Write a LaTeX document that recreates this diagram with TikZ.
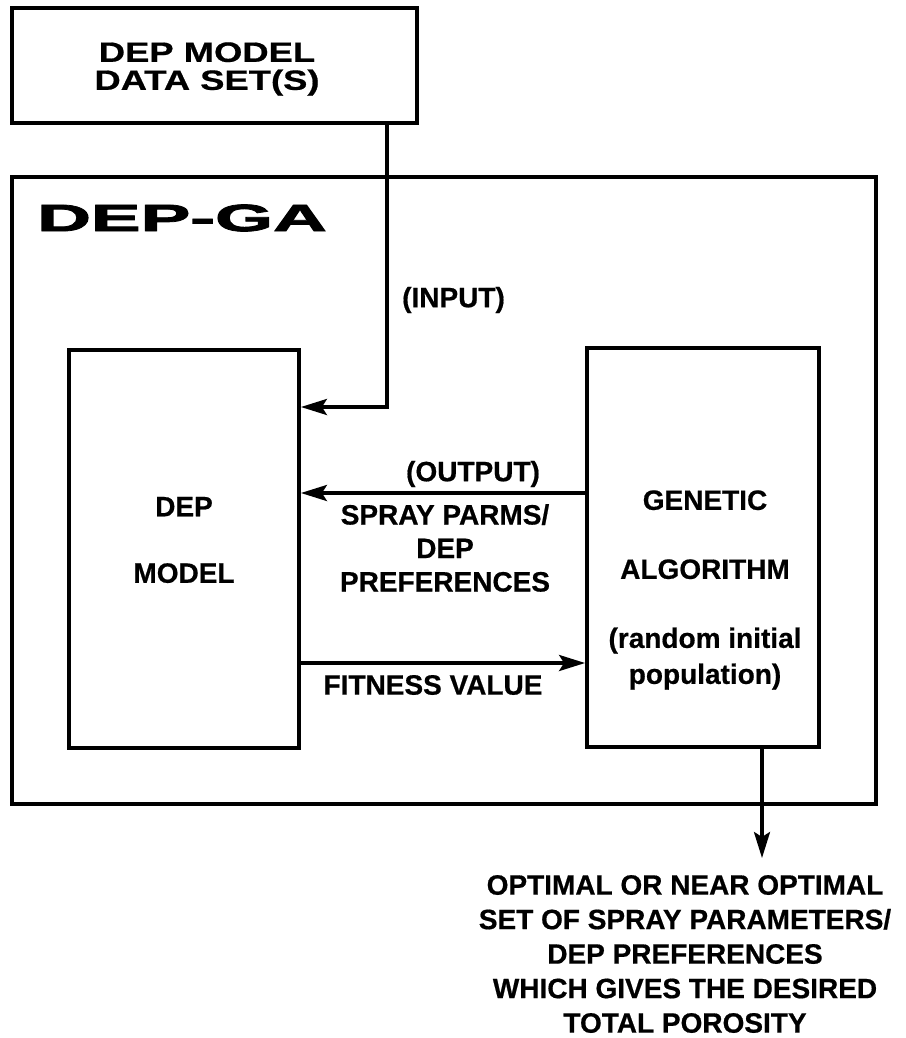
\documentclass[tikz,border=0pt]{standalone}
\usepackage{fontspec}
\setmainfont{Liberation Sans}
\newfontfamily\titlefont[FakeBold=2]{Liberation Sans Bold}
\newfontfamily\lblfont[FakeBold=0.6]{Liberation Sans Bold}
\usetikzlibrary{arrows.meta}
\tikzset{
  boxst/.style={draw, line width=3.8pt, inner sep=0pt, rectangle},
  bigbox/.style={draw, line width=4pt, inner sep=0pt, rectangle},
  arr/.style={line width=3.4pt, -{Stealth[length=26pt, width=16pt, inset=5pt]}},
  lbl/.style={font=\lblfont\fontsize{28}{33.5}\selectfont, align=center, inner sep=0pt},
  titlest/.style={font=\titlefont\fontsize{38}{40}\selectfont, inner sep=0pt}
}
\begin{document}
\begin{tikzpicture}[x=1pt,y=-1pt]
\useasboundingbox (0,0) rectangle (905,1038);
% boxes
\node[boxst, minimum width=405pt, minimum height=115pt] (data) at (214.5,65.5) {};
\node[bigbox, minimum width=864pt, minimum height=627pt] (depga) at (444,490.5) {};
\node[boxst, minimum width=230pt, minimum height=398pt] (dep) at (184,549) {};
\node[boxst, minimum width=232pt, minimum height=399pt] (ga) at (703,547.5) {};
% texts
\node[lbl, font=\lblfont\fontsize{28}{28}\selectfont] (datatxt) at (207,69)
  {\scalebox{1.3}[1]{DEP MODEL}\\\scalebox{1.3}[1]{DATA SET(S)}};
\node[titlest, anchor=west] (title) at (37,218) {\scalebox{1.96}[1]{DEP-GA}};
\node[lbl, anchor=west] (inlbl) at (402,300) {(INPUT)};
\node[lbl] (deptxt) at (184,540) {DEP\\[33pt]MODEL};
\node[lbl, font=\lblfont\fontsize{28}{36}\selectfont] (gatxt) at (705,590)
  {GENETIC\\[33pt]ALGORITHM\\[33pt](random initial\\population)};
\node[lbl] (outlbl) at (473,474) {(OUTPUT)};
\node[lbl] (spraylbl) at (445,548) {SPRAY PARMS/\\DEP\\PREFERENCES};
\node[lbl] (fitlbl) at (433,685) {FITNESS VALUE};
\node[lbl, font=\lblfont\fontsize{28}{34.5}\selectfont] (restxt) at (685,954)
  {OPTIMAL OR NEAR OPTIMAL\\SET OF SPRAY PARAMETERS/\\DEP PREFERENCES\\WHICH GIVES THE DESIRED\\TOTAL POROSITY};
% connectors
\coordinate (inbend) at (387,407);
\coordinate (outy) at (0,493);
\coordinate (fity) at (0,663);
\coordinate (restip) at (762,858);
\draw[arr] (data.south -| inbend) -- (inbend) -- (dep.east |- inbend);
\draw[arr] (ga.west |- outy) -- (dep.east |- outy);
\draw[arr] (dep.east |- fity) -- (ga.west |- fity);
\draw[arr] (ga.south -| restip) -- (restip);
\end{tikzpicture}
\end{document}
